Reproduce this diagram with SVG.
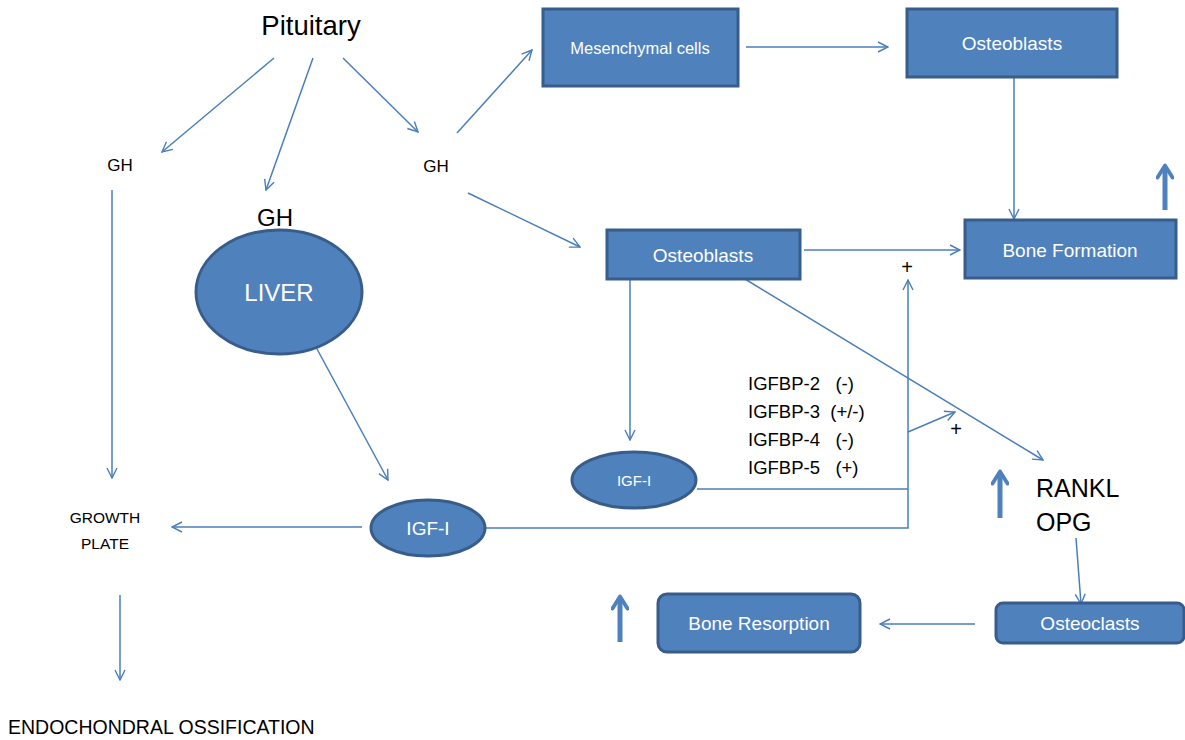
<svg xmlns="http://www.w3.org/2000/svg" width="1185" height="740" viewBox="0 0 1185 740">
<defs>
<marker id="ah" viewBox="0 0 12 12" refX="11" refY="6" markerWidth="12" markerHeight="12" markerUnits="userSpaceOnUse" orient="auto">
<path d="M1,1 L11,6 L1,11" fill="none" stroke="#4A7EBB" stroke-width="1.4"/>
</marker>
<marker id="thick" viewBox="0 0 12 12" refX="9" refY="6" markerWidth="18" markerHeight="18" markerUnits="userSpaceOnUse" orient="auto">
<path d="M2,1 L10,6 L2,11" fill="none" stroke="#4F81BD" stroke-width="2.6" stroke-linejoin="round" stroke-linecap="round"/>
</marker>
</defs>
<style>
.box{fill:#4F81BD;stroke:#385D8A;stroke-width:3}
.wt{fill:#fff;font-family:"Liberation Sans",Arial,sans-serif;text-anchor:middle}
.bt{fill:#000;font-family:"Liberation Sans",Arial,sans-serif}
.ln{stroke:#4A7EBB;stroke-width:1.5;fill:none}
.ar{stroke:#4A7EBB;stroke-width:1.5;fill:none;marker-end:url(#ah)}
.th{stroke:#4F81BD;stroke-width:5;fill:none;marker-end:url(#thick)}
</style>
<rect width="1185" height="740" fill="#fff"/>
<g id="connectors">
<line class="ar" x1="274" y1="58" x2="162" y2="152"/>
<line class="ar" x1="313" y1="58" x2="266" y2="190"/>
<line class="ar" x1="343" y1="58" x2="418" y2="132"/>
<line class="ar" x1="112" y1="190" x2="112" y2="478"/>
<line class="ar" x1="120" y1="595" x2="120" y2="680"/>
<line class="ar" x1="304" y1="325" x2="388" y2="480"/>
<line class="ar" x1="362" y1="527" x2="172" y2="527"/>
<polyline class="ar" points="486,528 908,528 908,280"/>
<line class="ar" x1="457" y1="133" x2="532" y2="50"/>
<line class="ar" x1="468" y1="193" x2="580" y2="247"/>
<line class="ar" x1="746" y1="47" x2="888" y2="47"/>
<line class="ar" x1="1014" y1="77" x2="1014" y2="219"/>
<line class="ar" x1="804" y1="250" x2="960" y2="250"/>
<line class="ar" x1="630" y1="280" x2="630" y2="440"/>
<line class="ar" x1="745" y1="279" x2="1043" y2="460"/>
<line class="ln" x1="697" y1="489" x2="908" y2="489"/>
<line class="ar" x1="908" y1="432" x2="955" y2="412"/>
<line class="ar" x1="1076" y1="538" x2="1081" y2="604"/>
<line class="ar" x1="975" y1="624" x2="880" y2="624"/>
<line class="th" x1="1165" y1="210" x2="1165" y2="167"/>
<line class="th" x1="1000" y1="518" x2="1000" y2="473"/>
<line class="th" x1="620" y1="642" x2="620" y2="598"/>
</g>
<g id="labels">
<text class="bt" x="311" y="35" font-size="27.5" text-anchor="middle">Pituitary</text>
<text class="bt" x="120" y="171" font-size="17" text-anchor="middle">GH</text>
<text class="bt" x="436" y="172" font-size="17" text-anchor="middle">GH</text>
<text class="bt" x="275" y="226" font-size="24" text-anchor="middle">GH</text>
<text class="bt" x="105" y="523" font-size="15.5" text-anchor="middle">GROWTH</text>
<text class="bt" x="105" y="549" font-size="15.5" text-anchor="middle">PLATE</text>
<text class="bt" x="8" y="734" font-size="19.5">ENDOCHONDRAL OSSIFICATION</text>
<text class="bt" x="907" y="274" font-size="20" text-anchor="middle">+</text>
<text class="bt" x="956" y="436" font-size="20" text-anchor="middle">+</text>
<text class="bt" x="748" y="390" font-size="18.5" xml:space="preserve">IGFBP-2   (-)</text>
<text class="bt" x="748" y="418" font-size="18.5" xml:space="preserve">IGFBP-3  (+/-)</text>
<text class="bt" x="748" y="446" font-size="18.5" xml:space="preserve">IGFBP-4   (-)</text>
<text class="bt" x="748" y="474" font-size="18.5" xml:space="preserve">IGFBP-5   (+)</text>
<text class="bt" x="1036" y="497" font-size="25">RANKL</text>
<text class="bt" x="1036" y="531" font-size="25">OPG</text>
</g>
<g id="liver">
<ellipse class="box" cx="279" cy="292" rx="83" ry="62"/>
<text class="wt" x="279" y="301" font-size="24">LIVER</text>
</g>
<g id="igf1-main">
<ellipse class="box" cx="428" cy="528" rx="57" ry="28"/>
<text class="wt" x="428" y="535" font-size="19">IGF-I</text>
</g>
<g id="igf1-local">
<ellipse class="box" cx="634" cy="480" rx="62" ry="28"/>
<text class="wt" x="634" y="486" font-size="15">IGF-I</text>
</g>
<g id="mesenchymal">
<rect class="box" x="543" y="9" width="195" height="77"/>
<text class="wt" x="640" y="54" font-size="16.5">Mesenchymal cells</text>
</g>
<g id="osteoblasts-top">
<rect class="box" x="907" y="9" width="210" height="68"/>
<text class="wt" x="1012" y="50" font-size="19">Osteoblasts</text>
</g>
<g id="bone-formation">
<rect class="box" x="965" y="220" width="211" height="58"/>
<text class="wt" x="1070" y="257" font-size="19">Bone Formation</text>
</g>
<g id="osteoblasts-mid">
<rect class="box" x="607" y="230" width="193" height="49"/>
<text class="wt" x="703" y="262" font-size="19">Osteoblasts</text>
</g>
<g id="osteoclasts">
<rect class="box" x="996" y="603" width="188" height="40" rx="7"/>
<text class="wt" x="1090" y="630" font-size="19">Osteoclasts</text>
</g>
<g id="bone-resorption">
<rect class="box" x="658" y="594" width="202" height="58" rx="9"/>
<text class="wt" x="759" y="630" font-size="19">Bone Resorption</text>
</g>
</svg>
